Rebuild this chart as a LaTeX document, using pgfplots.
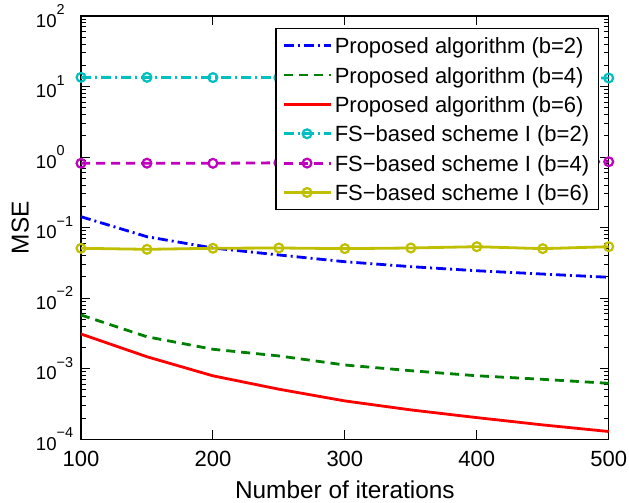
\documentclass[border=0pt]{standalone}
\usepackage{fontspec}
\setmainfont{Liberation Sans}
\usepackage{pgfplots}
\pgfplotsset{compat=1.18}

\definecolor{mblue}{rgb}{0,0,1}
\definecolor{mgreen}{rgb}{0,0.5,0}
\definecolor{mred}{rgb}{1,0,0}
\definecolor{mcyan}{rgb}{0,0.75,0.75}
\definecolor{mmag}{rgb}{0.75,0,0.75}
\definecolor{myel}{rgb}{0.75,0.75,0}

% y tick label: 10 with a raised exponent in a fixed-width box
\newcommand{\tl}[1]{10\makebox[12pt][l]{\raisebox{6.3pt}{\fontsize{7.2}{8}\selectfont #1}}}

\begin{document}
\begin{tikzpicture}
\begin{axis}[
    scale only axis,
    width=263.85pt, height=211.65pt,
    ymode=log,
    xmin=100, xmax=500,
    ymin=1e-4, ymax=1e2,
    clip=false,
    xtick={100,200,300,400,500},
    ytick={1e-4,1e-3,1e-2,1e-1,1e0,1e1,1e2},
    yticklabels={\tl{−4},\tl{−3},\tl{−2},\tl{−1},\tl{0},\tl{1},\tl{2}},
    /pgf/number format/assume math mode=true,
    xticklabel style={font=\fontsize{11}{13}\selectfont, yshift=-2.5pt},
    yticklabel style={font=\fontsize{9.3}{10}\selectfont, inner xsep=0pt, anchor=east},
    label style={font=\fontsize{12.2}{14}\selectfont},
    xlabel={Number of iterations},
    ylabel={MSE},
    axis line style={line width=0.6pt},
    every tick/.style={black, line width=0.5pt},
    major tick length=4.6pt,
    minor tick length=2.5pt,
    tick align=inside,
    legend cell align=left,
    legend style={
        at={(rel axis cs:1,1)}, xshift=-5pt, yshift=-6pt,
        anchor=north east,
        draw=black, line width=0.6pt,
        font=\fontsize{11}{13}\selectfont,
        inner xsep=3.1pt, inner ysep=2pt,
        row sep=1.52pt, column sep=0pt,
        nodes={inner xsep=1.4pt, inner ysep=0pt, text height=10.65pt, text depth=2.5pt},
    },
    legend image code/.code={
        \draw[mark repeat=2, mark phase=2]
            plot coordinates {(0pt,0pt) (11.75pt,0pt) (23.5pt,0pt)};
    },
    every axis plot/.append style={line width=1.4pt},
]

% proposed algorithm
\addplot[mblue, dash pattern=on 5pt off 2pt on 1pt off 2pt] coordinates {
(100,0.143) (150,0.0744) (200,0.0515) (250,0.041) (300,0.0329)
(350,0.028) (400,0.0245) (450,0.022) (500,0.0198)
};
\addlegendentry{Proposed algorithm (b=2)}

\addplot[mgreen, dash pattern=on 4.5pt off 3pt] coordinates {
(100,0.00578) (150,0.00284) (200,0.00189) (250,0.00152) (300,0.00113)
(350,0.000938) (400,0.000796) (450,0.000708) (500,0.000622)
};
\addlegendentry{Proposed algorithm (b=4)}

\addplot[mred] coordinates {
(100,0.00311) (150,0.00148) (200,0.000794) (250,0.000513) (300,0.00035)
(350,0.000261) (400,0.000203) (450,0.00016) (500,0.000129)
};
\addlegendentry{Proposed algorithm (b=6)}

% FS-based scheme I
\addplot[mcyan, dash pattern=on 5pt off 2pt on 1pt off 2pt, mark=o, mark size=2.2pt, mark options={solid, line width=1.1pt}] coordinates {
(100,13.5) (150,13.5) (200,13.4) (250,13.4) (300,13.4)
(350,13.3) (400,13.3) (450,13.3) (500,13.2)
};
\addlegendentry{FS−based scheme I (b=2)}

\addplot[mmag, dash pattern=on 4.5pt off 3pt, mark=o, mark size=2.2pt, mark options={solid, line width=1.1pt}] coordinates {
(100,0.817) (150,0.82) (200,0.817) (250,0.83) (300,0.83)
(350,0.84) (400,0.84) (450,0.85) (500,0.86)
};
\addlegendentry{FS−based scheme I (b=4)}

\addplot[myel, mark=o, mark size=2.2pt, mark options={solid, line width=1.1pt}] coordinates {
(100,0.051) (150,0.0493) (200,0.051) (250,0.0515) (300,0.0504)
(350,0.0515) (400,0.0537) (450,0.0504) (500,0.0537)
};
\addlegendentry{FS−based scheme I (b=6)}

\end{axis}
\pgfresetboundingbox
\path[use as bounding box] ([xshift=-40.5pt,yshift=-31.35pt]current axis.south west)
    rectangle ([xshift=10.15pt,yshift=8pt]current axis.north east);
\end{tikzpicture}
\end{document}
